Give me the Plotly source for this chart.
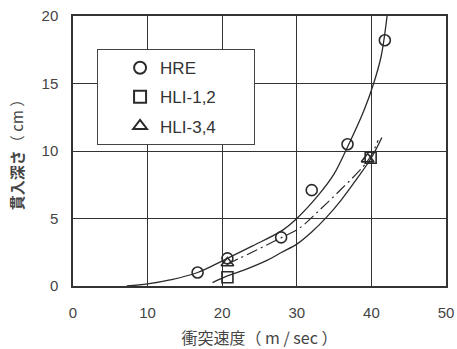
import plotly.graph_objects as go

# ---- data ----
hre_x = [16.7, 20.7, 27.9, 32.0, 36.8, 41.8]
hre_y = [1.0, 2.05, 3.6, 7.1, 10.5, 18.2]
hli12_x = [20.7, 39.9]
hli12_y = [0.65, 9.5]
hli34_x = [20.7, 39.5]
hli34_y = [1.7, 9.4]

# fitted curves as drawn in the figure
hre_curve_x = [7.2, 10, 13, 16.7, 20.7, 24, 28, 30, 33, 35, 36.8, 39, 40.3, 41.3, 42.1]
hre_curve_y = [0.0, 0.15, 0.45, 1.0, 2.05, 2.95, 4.1, 5.0, 6.8, 8.3, 10.3, 13.0, 15.0, 17.0, 20.0]
hli12_curve_x = [18.7, 20.7, 23, 26, 28, 30, 32, 34, 36, 38, 40, 41.4]
hli12_curve_y = [0.25, 0.75, 1.2, 1.9, 2.5, 3.1, 4.0, 5.1, 6.4, 7.9, 9.5, 11.0]
hli34_curve_x = [20.6, 24, 28, 30.4, 33, 36, 38.9, 40, 40.9]
hli34_curve_y = [1.6, 2.5, 3.6, 4.3, 5.6, 7.2, 8.85, 9.7, 10.8]

x_ticks = [0, 10, 20, 30, 40, 50]
y_ticks = [0, 5, 10, 15, 20]

ink = "#2b2b2b"
fig = go.Figure()

fig.add_trace(go.Scatter(x=hre_curve_x, y=hre_curve_y, mode="lines", line=dict(color=ink, width=1.3, shape="spline", smoothing=1.0), showlegend=False))
fig.add_trace(go.Scatter(x=hli12_curve_x, y=hli12_curve_y, mode="lines", line=dict(color=ink, width=1.3, shape="spline"), showlegend=False))
fig.add_trace(go.Scatter(x=hli34_curve_x, y=hli34_curve_y, mode="lines", line=dict(color=ink, width=1.2, shape="spline", dash="12px,4px,2px,4px"), showlegend=False))

fig.add_trace(go.Scatter(x=hre_x, y=hre_y, mode="markers", name="HRE\u00a0\u00a0\u00a0\u00a0\u00a0\u00a0\u00a0\u00a0\u00a0\u00a0\u00a0",
                         marker=dict(symbol="circle-open", size=11, color=ink, line=dict(width=1.6)), legendgroup="a"))
fig.add_trace(go.Scatter(x=hli12_x, y=hli12_y, mode="markers", name="HLI-1,2",
                         marker=dict(symbol="square-open", size=11, color=ink, line=dict(width=1.6)), legendgroup="b"))
fig.add_trace(go.Scatter(x=hli34_x, y=hli34_y, mode="markers", name="HLI-3,4",
                         marker=dict(symbol="triangle-up-open", size=11, color=ink, line=dict(width=1.6)), legendgroup="c"))

fig.update_layout(
    width=457, height=349,
    margin=dict(l=73, r=11, t=16, b=63, autoexpand=False),
    paper_bgcolor="white", plot_bgcolor="white",
    font=dict(family="Liberation Sans, Arial, sans-serif", color="#444", size=15),
    legend=dict(x=0.064, y=0.878, xanchor="left", yanchor="top",
                bgcolor="white", bordercolor="#444", borderwidth=1.2,
                font=dict(size=17, color="#333"), tracegroupgap=4, indentation=22,
                itemsizing="constant"),
    xaxis=dict(range=[0, 50], tickvals=x_ticks, showgrid=True, gridcolor="#333", gridwidth=1,
               showline=True, linecolor="#333", linewidth=1.5, mirror=True, zeroline=False,
               ticks="", ticklabelstandoff=12, automargin=False, ticklabeloverflow="allow",
               title=dict(text="衝突速度（ m / sec ）", font=dict(family="Noto Sans CJK JP", size=16, color="#444"), standoff=22)),
    yaxis=dict(range=[0, 20], tickvals=y_ticks, showgrid=True, gridcolor="#333", gridwidth=1,
               showline=True, linecolor="#333", linewidth=1.5, mirror=True, zeroline=False,
               ticks="", ticklabelstandoff=10, automargin=False, ticklabeloverflow="allow",
               title=dict(text="<b>貫入深さ</b>（ cm ）", font=dict(family="Noto Sans CJK JP", size=15, color="#444"), standoff=14)),
)

fig.write_html("out.html", config={"displayModeBar": False},
               post_script="document.body.style.margin='0';document.body.style.overflow='hidden';")
